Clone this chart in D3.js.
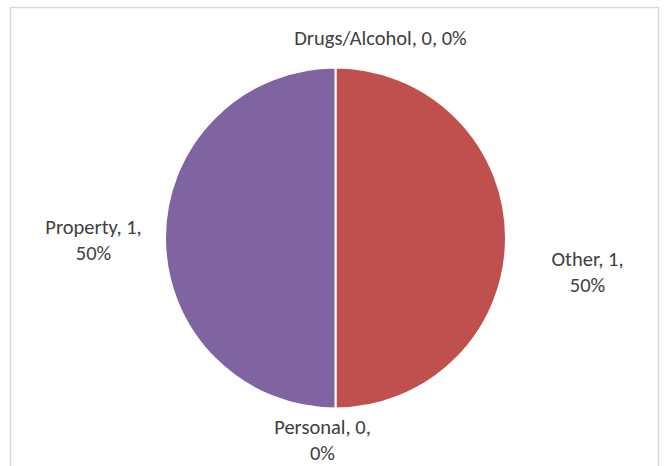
<!DOCTYPE html>
<html><head><meta charset="utf-8">
<script src="https://cdn.jsdelivr.net/npm/d3@7"></script>
<style>html,body{margin:0;padding:0;background:#fff;overflow:hidden}</style>
</head><body>
<svg id="chart" width="665" height="466"></svg>
<script>
const categories = ["Drugs/Alcohol", "Other", "Personal", "Property"];
const values = [0, 1, 0, 1];
const colors = ["#4F81BD", "#C0504D", "#9BBB59", "#8064A2"];

const svg = d3.select("#chart");
// chart frame
svg.append("rect").attr("x", 10.5).attr("y", 7.5).attr("width", 648).attr("height", 470)
  .attr("fill", "#fff").attr("stroke", "#d9d9d9").attr("stroke-width", 1.5);

const cx = 335.5, cy = 238, R = 170.5;
const total = d3.sum(values);
const pie = d3.pie().sort(null).value(d => d.v);
const data = categories.map((c, i) => ({ c, v: values[i], col: colors[i] }));
const arcs = pie(data);
const arc = d3.arc().innerRadius(0).outerRadius(R);

const g = svg.append("g").attr("transform", `translate(${cx},${cy})`);
g.selectAll("path").data(arcs.filter(a => a.data.v > 0)).join("path")
  .attr("d", arc).attr("fill", d => d.data.col)
  .attr("stroke", "#fff").attr("stroke-width", 2);

// label placement: a point along the slice mid-angle, with a nudge (layout only)
const labelR = 200;
const nudges = [[45, 0, false], [52, 34, true], [-13, 2, true], [-42, 2, true]];
const fmt = d3.format(".0%");
arcs.forEach((a, i) => {
  const mid = (a.startAngle + a.endAngle) / 2;
  let x = Math.sin(mid) * labelR, y = -Math.cos(mid) * labelR;
  const [nx, ny, wrap] = nudges[i];
  x += nx; y += ny;
  const pct = fmt(a.data.v / total);
  const lines = wrap ? [`${a.data.c}, ${a.data.v},`, pct] : [`${a.data.c}, ${a.data.v}, ${pct}`];
  const lh = 26;
  const t = g.append("text").attr("text-anchor", "middle")
    .attr("font-family", "Carlito, Lato, 'Open Sans', sans-serif").attr("font-size", 20.5)
    .attr("fill", "#404040");
  lines.forEach((l, k) => {
    t.append("tspan").attr("x", x)
      .attr("y", y + (k - (lines.length - 1) / 2) * lh)
      .attr("dy", "0.35em").text(l);
  });
});
</script>
</body></html>
